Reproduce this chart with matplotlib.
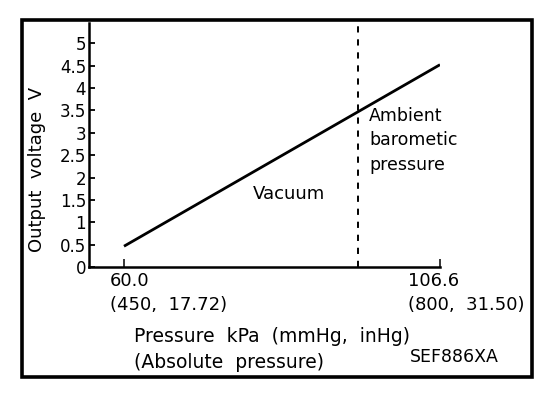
import matplotlib.pyplot as plt
from matplotlib.patches import Rectangle

W, H = 560, 394

# chart values
pressure_kpa = [60.0, 106.6]
output_v = [0.47, 4.52]
ambient_kpa = 94.5
yticks = [0, 0.5, 1, 1.5, 2, 2.5, 3, 3.5, 4, 4.5, 5]
ytick_labels = ["0", "0.5", "1", "1.5", "2", "2.5", "3", "3.5", "4", "4.5", "5"]
xticks = [60.0, 106.6]
xtick_labels = ["60.0\n(450,  17.72)", "106.6\n(800,  31.50)"]

plt.rcParams['font.family'] = ['DejaVu Sans']


def px(x, y):
    # pixel position (from top-left) -> figure fraction
    return x / W, 1 - y / H


fig = plt.figure(figsize=(W / 100, H / 100), dpi=100)
ax = fig.add_axes([89 / W, 1 - 267.3 / H, (440 - 89) / W, (267.3 - 23) / H])

ax.plot(pressure_kpa, output_v, color='k', lw=2.0, solid_capstyle='butt')
ax.axvline(ambient_kpa, color='k', lw=1.4, linestyle=(0, (3.2, 3.5)))

ax.set_xlim(54.84, 106.6)
ax.set_ylim(0, 5.45)

for s in ['top', 'right']:
    ax.spines[s].set_visible(False)
for s in ['left', 'bottom']:
    ax.spines[s].set_linewidth(1.8)

ax.set_yticks(yticks)
ax.set_yticklabels(ytick_labels, fontsize=12)
ax.tick_params(axis='y', direction='in', length=4.5, width=1.3, pad=2)
ax.set_xticks(xticks)
ax.set_xticklabels([])
ax.tick_params(axis='x', direction='in', length=6, width=1.1)

# x tick labels sit left of their ticks in the original
offsets = [-10, -23]
for xv, lab, dx in zip(xticks, xtick_labels, offsets):
    ax.annotate(lab, xy=(xv, 0), xycoords='data', xytext=(dx, -3.5),
                textcoords='offset points', ha='left', va='top', fontsize=13,
                linespacing=1.4, annotation_clip=False)

fig.text(*px(37, 169), "Output  voltage  V", rotation=90, ha='center', va='center',
         fontsize=13)
fig.text(*px(289, 194), "Vacuum", ha='center', va='center', fontsize=13)
fig.text(*px(369, 107), "Ambient\nbarometic\npressure", ha='left', va='top',
         fontsize=12.5, linespacing=1.45)

fig.text(*px(134, 336), "Pressure  kPa  (mmHg,  inHg)", ha='left', va='center', fontsize=13.5)
fig.text(*px(134, 363), "(Absolute  pressure)", ha='left', va='center', fontsize=13.5)
fig.text(*px(410, 357), "SEF886XA", ha='left', va='center', fontsize=12.5)

x0, y0 = px(21.5, 376.5)
x1, y1 = px(531.5, 19.5)
fig.patches.append(Rectangle((x0, y0), x1 - x0, y1 - y0, transform=fig.transFigure,
                             fill=False, edgecolor='k', lw=2.6))

fig.savefig("out.png", dpi=100)
